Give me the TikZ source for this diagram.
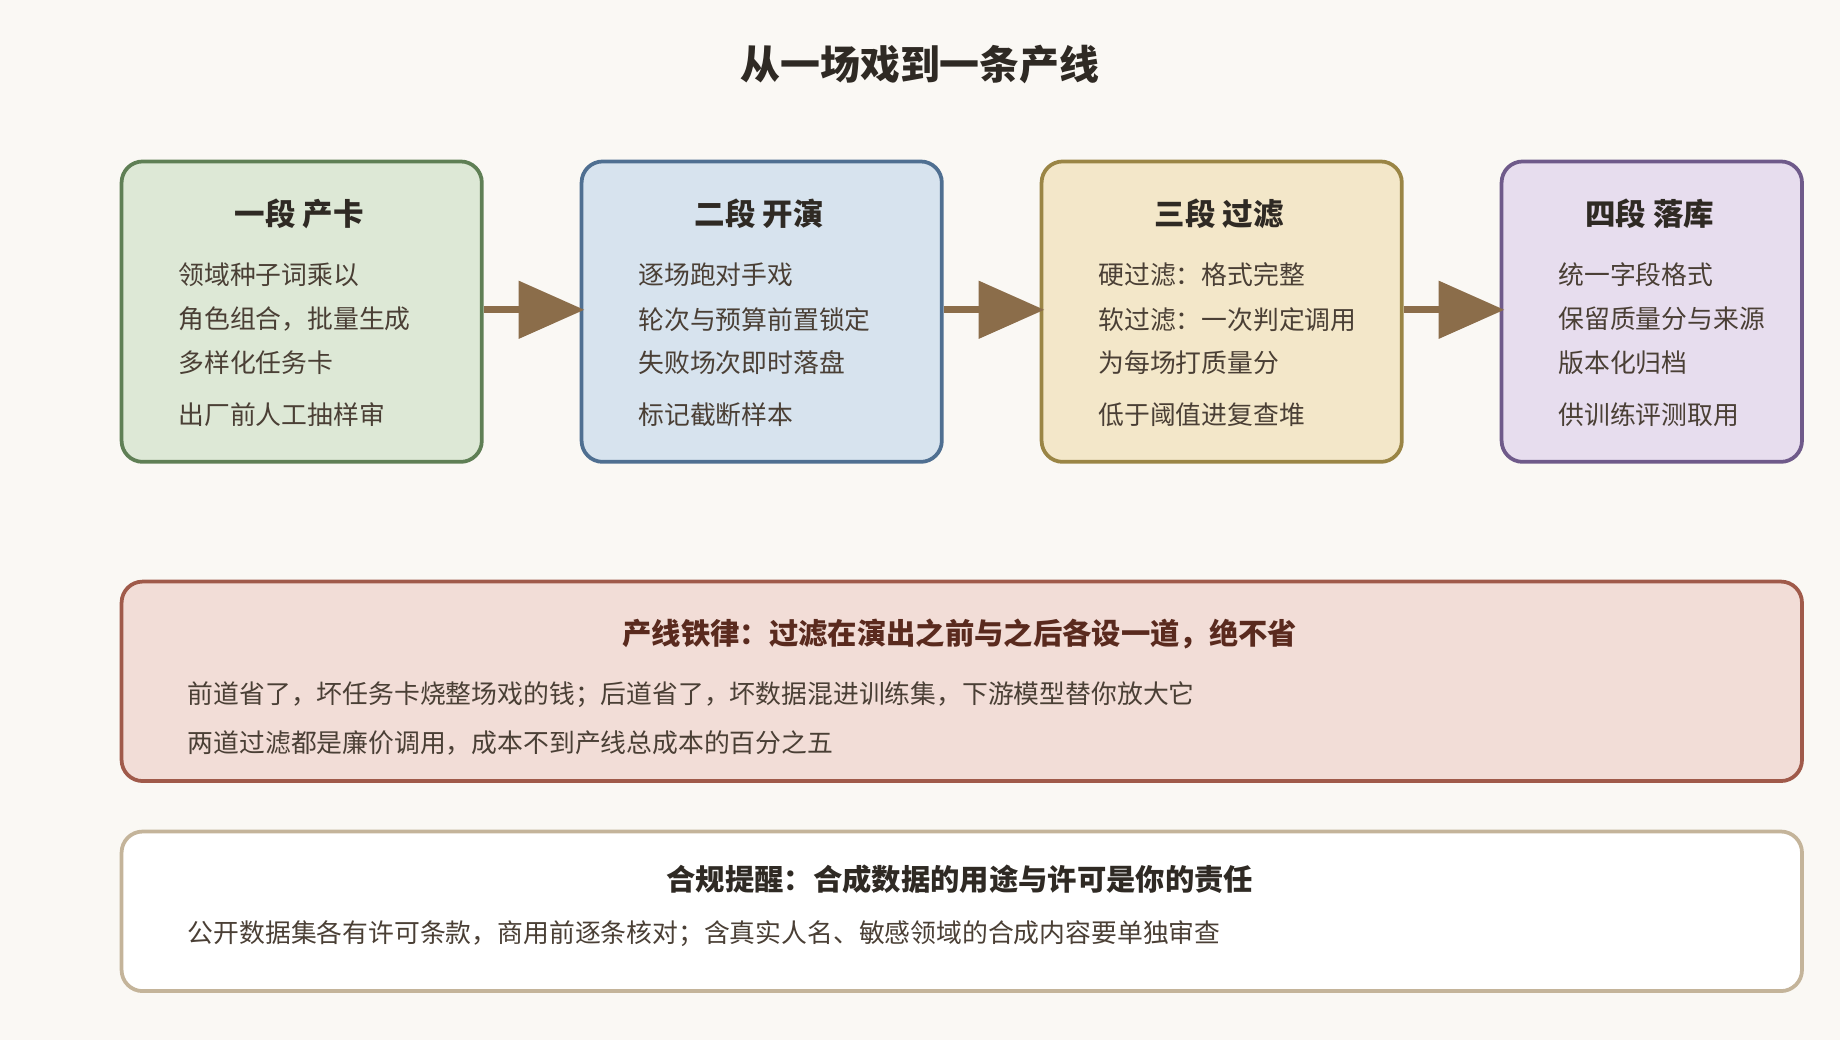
\documentclass[tikz,border=0pt]{standalone}
\usepackage{fontspec}
\setmainfont{Noto Sans CJK SC}
\usetikzlibrary{arrows.meta, positioning}
\definecolor{bgcol}{HTML}{FAF8F4}
\definecolor{txtcol}{HTML}{4A3F35}
\definecolor{headcol}{HTML}{2F2A24}
\definecolor{arrcol}{HTML}{8B6D4A}
\definecolor{fillA}{HTML}{DDE8D6}\definecolor{lineA}{HTML}{5F7F55}
\definecolor{fillB}{HTML}{D7E3EE}\definecolor{lineB}{HTML}{4F6F91}
\definecolor{fillC}{HTML}{F3E7C9}\definecolor{lineC}{HTML}{9A8545}
\definecolor{fillD}{HTML}{E7DDEE}\definecolor{lineD}{HTML}{6F5A8A}
\definecolor{fillR}{HTML}{F2DDD7}\definecolor{lineR}{HTML}{A05A4A}
\definecolor{headR}{HTML}{5A2A1E}
\definecolor{lineW}{HTML}{C4B49A}
\tikzset{
  stage/.style={draw, line width=1.6pt, rounded corners=9pt, minimum width=153.5pt, minimum height=128pt, anchor=north west, inner sep=0pt},
  band/.style={draw, line width=1.6pt, rounded corners=9pt, minimum width=716pt, anchor=north west, inner sep=0pt},
  head/.style={font=\fontsize{13}{15}\selectfont\bfseries, text=headcol},
  line/.style={font=\fontsize{11}{13}\selectfont, text=txtcol, anchor=west},
  flow/.style={arrcol, line width=3pt, -{Triangle[length=28pt,width=24pt]}, shorten >=-2pt}
}
\begin{document}
\begin{tikzpicture}[x=0.5pt, y=-0.5pt]
\fill[bgcol] (0,0) rectangle (1568,886);
\useasboundingbox (0,0) rectangle (1568,886);

% Title
\node[font=\fontsize{17}{20}\selectfont\bfseries, text=headcol] (title) at (784,55) {从一场戏到一条产线};

% Stages
\node[stage, fill=fillA, draw=lineA] (s1) at (102,136) {};
\node[stage, fill=fillB, draw=lineB] (s2) at (494,136) {};
\node[stage, fill=fillC, draw=lineC] (s3) at (886,136) {};
\node[stage, fill=fillD, draw=lineD, minimum width=128pt] (s4) at (1278,136) {};

\node[head] (h1) at (255,182) {一段 产卡};
\node[head] (h2) at (647,182) {二段 开演};
\node[head] (h3) at (1039,182) {三段 过滤};
\node[head] (h4) at (1406,182) {四段 落库};

\node[line] (a1) at (145,234) {领域种子词乘以};
\node[line] (a2) at (145,272) {角色组合，批量生成};
\node[line] (a3) at (145,309) {多样化任务卡};
\node[line] (a4) at (145,353) {出厂前人工抽样审};

\node[line] (b1) at (537,234) {逐场跑对手戏};
\node[line] (b2) at (537,272) {轮次与预算前置锁定};
\node[line] (b3) at (537,309) {失败场次即时落盘};
\node[line] (b4) at (537,353) {标记截断样本};

\node[line] (c1) at (929,234) {硬过滤：格式完整};
\node[line] (c2) at (929,272) {软过滤：一次判定调用};
\node[line] (c3) at (929,309) {为每场打质量分};
\node[line] (c4) at (929,353) {低于阈值进复查堆};

\node[line] (d1) at (1321,234) {统一字段格式};
\node[line] (d2) at (1321,272) {保留质量分与来源};
\node[line] (d3) at (1321,309) {版本化归档};
\node[line] (d4) at (1321,353) {供训练评测取用};

% Arrows
\draw[flow] (s1.east |- 0,264) -- (s2.west |- 0,264);
\draw[flow] (s2.east |- 0,264) -- (s3.west |- 0,264);
\draw[flow] (s3.east |- 0,264) -- (s4.west |- 0,264);

% Rule band
\node[band, fill=fillR, draw=lineR, minimum height=85pt] (rule) at (102,494) {};
\node[head, text=headR, font=\fontsize{12.5}{15}\selectfont\bfseries] (rh) at (818,540) {产线铁律：过滤在演出之前与之后各设一道，绝不省};
\node[line] (r1) at (153,592) {前道省了，坏任务卡烧整场戏的钱；后道省了，坏数据混进训练集，下游模型替你放大它};
\node[line] (r2) at (153,633) {两道过滤都是廉价调用，成本不到产线总成本的百分之五};

% Compliance band
\node[band, fill=white, draw=lineW, minimum height=68pt] (note) at (102,707) {};
\node[head, font=\fontsize{12.5}{15}\selectfont\bfseries] (nh) at (818,749) {合规提醒：合成数据的用途与许可是你的责任};
\node[line] (n1) at (153,796) {公开数据集各有许可条款，商用前逐条核对；含真实人名、敏感领域的合成内容要单独审查};
\end{tikzpicture}
\end{document}
